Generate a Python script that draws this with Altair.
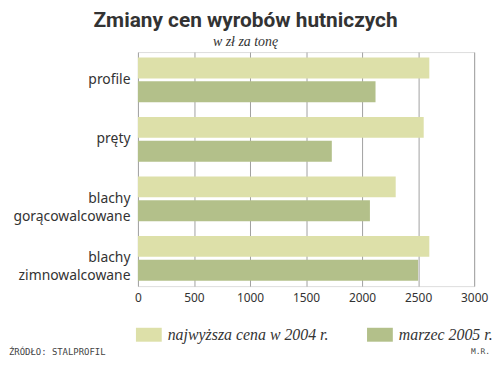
import altair as alt
import pandas as pd

categories = ["profile", "pręty", "blachy gorącowalcowane", "blachy zimnowalcowane"]
series = ["najwyższa cena w 2004 r.", "marzec 2005 r."]
values_2004 = [2600, 2550, 2300, 2600]
values_2005 = [2120, 1730, 2070, 2500]
x_ticks = [0, 500, 1000, 1500, 2000, 2500, 3000]
colors = ["#dde0a9", "#b3c08a"]

rows = []
for c, v1, v2 in zip(categories, values_2004, values_2005):
    rows.append({"kategoria": c, "seria": series[0], "cena": v1})
    rows.append({"kategoria": c, "seria": series[1], "cena": v2})
df = pd.DataFrame(rows)

bars = alt.Chart(df).mark_bar().encode(
    y=alt.Y("kategoria:N", sort=categories,
            scale=alt.Scale(paddingInner=0.25, paddingOuter=0.092),
            axis=alt.Axis(title=None, ticks=False, domain=False, grid=False,
                          labelExpr="split(datum.value, ' ')",
                          labelFont="Noto Sans", labelFontSize=14,
                          labelColor="#333333", labelPadding=8,
                          labelLineHeight=18)),
    yOffset=alt.YOffset("seria:N", sort=series,
                        scale=alt.Scale(paddingInner=0.125, paddingOuter=0)),
    x=alt.X("cena:Q", scale=alt.Scale(domain=[0, 3000], nice=False),
            axis=alt.Axis(title=None, values=x_ticks, ticks=False, domain=False,
                          format="d",
                          grid=True, gridColor="#a0a0a0", gridWidth=1,
                          labelFont="Noto Sans", labelFontSize=12,
                          labelColor="#333333", labelPadding=6,
                          labelFlush=False)),
    color=alt.Color("seria:N", sort=series,
                    scale=alt.Scale(domain=series, range=colors),
                    legend=alt.Legend(title=None, orient="none",
                                      direction="horizontal",
                                      legendX=-2, legendY=272,
                                      symbolType="M-1,-0.54L1,-0.54L1,0.54L-1,0.54Z",
                                      symbolSize=676, symbolStrokeWidth=0,
                                      symbolOpacity=1,
                                      labelFont="Liberation Serif",
                                      labelFontStyle="italic",
                                      labelFontSize=16, labelColor="#333333",
                                      labelOffset=6, columnPadding=38,
                                      labelLimit=400)),
)

src = pd.DataFrame({"t": ["ŹRÓDŁO: STALPROFIL"]})
source = alt.Chart(src).mark_text(align="left", baseline="middle",
                                  font="DejaVu Sans Mono", fontSize=9,
                                  color="#444444").encode(
    x=alt.value(-130), y=alt.value(302), text="t:N")

aut = pd.DataFrame({"t": ["M.R."]})
author = alt.Chart(aut).mark_text(align="right", baseline="middle",
                                  font="DejaVu Sans Mono", fontSize=8,
                                  color="#444444").encode(
    x=alt.value(355), y=alt.value(302), text="t:N")

chart = alt.layer(bars, source, author).properties(
    width=339, height=236,
    title=alt.Title("Zmiany cen wyrobów hutniczych",
                    subtitle="w zł za tonę",
                    anchor="middle", dx=-61, offset=3,
                    font="Roboto", fontSize=21, fontWeight="bold",
                    color="#333333",
                    subtitleFont="Liberation Serif", subtitleFontStyle="italic",
                    subtitleFontSize=14, subtitleColor="#333333",
                    subtitlePadding=4),
    autosize=alt.AutoSizeParams(type="none"),
    padding={"left": 131, "top": 43, "right": 18, "bottom": 70},
).configure_view(stroke="#a0a0a0", strokeWidth=1).configure(background="white")

chart.save("out.html", embed_options={"renderer": "svg", "actions": False})
